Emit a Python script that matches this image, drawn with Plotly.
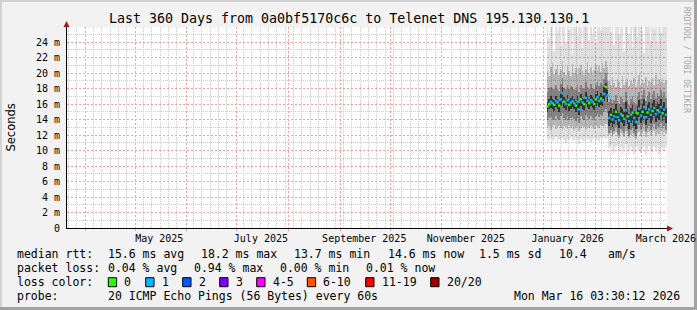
import plotly.graph_objects as go
import pandas as pd

# ---------------- data (milliseconds) ----------------
start_day = "2026-01-03 12:00"
n_days = 72

median_ms = [15.7, 16.0, 16.3, 16.1, 15.9, 16.4, 16.2, 15.8, 16.6, 17.4, 16.3, 16.0, 16.5, 15.9, 16.2, 16.4, 16.1, 15.8, 16.3, 15.3,
             16.6, 16.2, 16.0, 16.8, 16.4, 16.1, 16.5, 16.3, 16.0, 16.6, 16.9, 16.4, 16.7, 16.5, 17.3, 18.2, 17.1,
             14.2, 14.6, 14.0, 14.4, 15.0, 14.3, 13.9, 14.7, 14.5, 14.1, 15.2, 14.4, 13.8, 14.6, 14.9, 14.2, 13.7, 14.8, 15.4,
             14.5, 15.0, 15.6, 14.3, 14.9, 15.3, 14.6, 15.1, 15.5, 14.7, 15.2, 15.0, 15.6, 14.8, 15.3, 14.6]
loss_count = [0, 0, 1, 1, 0, 1, 1, 0, 1, 1, 0, 1, 1, 0, 1, 1, 1, 0, 1, 1, 0, 1, 0, 1, 1, 0, 1, 1, 0, 0, 1, 1, 0, 1, 1, 0, 1,
              1, 0, 1, 1, 0, 1, 1, 1, 0, 1, 1, 0, 1, 1, 0, 1, 1, 0, 1, 1, 0, 1, 1, 0, 1, 1, 0, 1, 1, 0, 1, 1, 0, 1, 1]

# outer smoke (min / max ping)
a_hi = [27, 24.5, 28, 26, 22.8, 27, 25.2, 28, 23.5, 27, 26.5, 24, 28, 25.5, 27, 22.5, 26.8, 28, 24.8, 27,
        25.8, 23.2, 28, 26.2, 27, 24.2, 28, 25, 26.7, 23.8, 28, 27, 25.4, 28, 26.6, 28, 27.5,
        28, 25.3, 27, 23.6, 28, 26.4, 24.9, 28, 27.2, 22.9, 26.1, 28, 25.0, 27.3, 23.4, 28, 26.0, 24.6, 28,
        27.0, 25.6, 22.6, 28, 26.3, 27.1, 24.1, 28, 25.7, 26.9, 23.9, 28, 25.2, 27.4, 28, 26.2]
a_lo = [11.5, 11.3, 11.6, 11.2, 11.4, 11.7, 11.1, 11.5, 11.3, 11.6, 11.4, 11.0, 11.5, 11.3, 11.7, 11.2, 11.4, 11.6, 11.3, 10.9,
        11.5, 11.4, 11.2, 11.6, 11.3, 11.5, 11.1, 11.4, 11.6, 11.3, 11.5, 11.2, 11.6, 11.4, 11.7, 11.5, 11.8,
        10.3, 10.6, 10.1, 9.8, 10.4, 10.7, 10.0, 10.5, 9.6, 10.2, 10.8, 10.3, 9.9, 10.5, 10.1, 9.5, 10.4, 10.6,
        10.0, 9.7, 10.3, 10.5, 9.4, 10.2, 10.6, 10.0, 9.8, 10.4, 10.1, 10.3, 9.6, 10.2, 10.5, 10.0, 10.4]
b_hi = [20.2, 19.6, 20.8, 21.3, 19.9, 20.5, 21.0, 19.7, 20.4, 21.5, 20.1, 19.8, 20.9, 20.3, 19.6, 21.2, 20.0, 20.6, 19.9, 20.7,
        21.1, 20.2, 19.8, 20.5, 21.4, 20.0, 20.8, 19.7, 20.4, 21.0, 20.3, 20.9, 20.1, 21.3, 20.6, 21.5, 20.8,
        19.0, 18.4, 19.5, 18.7, 18.2, 19.2, 18.9, 18.1, 19.6, 18.5, 18.8, 19.3, 18.3, 19.0, 18.6, 19.4, 18.2, 18.9,
        19.7, 18.4, 19.1, 18.7, 19.5, 18.3, 19.0, 18.8, 19.3, 18.5, 19.8, 18.6, 19.2, 18.9, 19.4, 18.7, 19.1]
b_lo = [12.9, 13.1, 12.7, 13.0, 13.3, 12.8, 13.0, 13.2, 12.9, 12.6, 13.1, 13.0, 12.8, 13.3, 12.9, 13.1, 12.7, 13.0, 13.2, 12.5,
        12.9, 13.1, 13.0, 12.8, 13.2, 12.9, 13.1, 13.0, 12.8, 13.2, 13.0, 12.9, 13.3, 13.1, 13.2, 13.4, 13.3,
        12.0, 12.2, 11.7, 12.1, 12.4, 11.9, 11.6, 12.2, 12.0, 11.8, 12.5, 12.1, 11.6, 12.0, 12.3, 11.8, 11.5, 12.2,
        12.4, 11.9, 12.1, 12.5, 11.8, 12.2, 12.4, 11.9, 12.3, 12.5, 12.0, 12.3, 12.1, 12.5, 12.0, 12.4, 12.1]
c_hi = [17.6, 18.1, 18.2, 17.9, 18.0, 18.5, 18.0, 17.7, 18.6, 19.3, 18.1, 18.0, 18.4, 17.9, 18.3, 18.2, 17.9, 17.8, 18.5, 17.6,
        18.5, 18.1, 17.9, 18.9, 18.2, 18.0, 18.6, 18.1, 17.9, 18.5, 18.8, 18.3, 18.7, 18.4, 19.2, 20.0, 19.0,
        16.3, 16.6, 16.1, 16.5, 17.2, 16.4, 16.0, 16.9, 16.6, 16.2, 17.5, 16.5, 15.9, 16.7, 17.1, 16.3, 15.9, 16.9,
        17.6, 16.6, 17.2, 17.8, 16.4, 17.0, 17.5, 16.7, 17.3, 17.7, 16.8, 17.4, 17.1, 17.8, 16.9, 17.5, 16.8]
c_lo = [13.9, 14.2, 14.3, 14.1, 14.0, 14.4, 14.1, 13.9, 14.5, 14.9, 14.2, 14.0, 14.4, 13.9, 14.2, 14.3, 14.1, 13.8, 14.2, 13.6,
        14.5, 14.1, 14.0, 14.6, 14.3, 14.1, 14.4, 14.2, 14.0, 14.5, 14.7, 14.3, 14.6, 14.4, 15.0, 15.3, 14.9,
        12.2, 12.7, 12.0, 12.5, 13.0, 12.3, 12.0, 12.8, 12.5, 12.2, 13.1, 12.5, 11.9, 12.7, 12.9, 12.3, 11.9, 12.8,
        13.3, 12.6, 13.0, 13.4, 12.4, 12.9, 13.2, 12.7, 13.0, 13.4, 12.8, 13.1, 13.0, 13.5, 12.9, 13.2, 12.7]
d_hi = [16.3, 16.6, 17.0, 16.6, 16.5, 17.1, 16.7, 16.4, 17.3, 18.2, 16.9, 16.6, 17.2, 16.5, 16.8, 17.0, 16.7, 16.4, 17.0, 16.1,
        17.3, 16.8, 16.6, 17.6, 17.0, 16.7, 17.2, 16.9, 16.6, 17.3, 17.7, 17.0, 17.4, 17.1, 18.2, 18.7, 17.8,
        15.1, 15.5, 14.9, 15.3, 16.0, 15.2, 14.8, 15.6, 15.4, 15.0, 16.2, 15.3, 14.7, 15.5, 15.9, 15.1, 14.7, 15.7,
        16.5, 15.4, 16.0, 16.7, 15.2, 15.9, 16.3, 15.5, 16.1, 16.5, 15.7, 16.2, 16.0, 16.7, 15.8, 16.3, 15.5]
d_lo = [15.0, 15.3, 15.5, 15.3, 15.1, 15.6, 15.4, 15.0, 15.8, 16.4, 15.5, 15.2, 15.7, 15.1, 15.4, 15.6, 15.3, 15.0, 15.5, 14.6,
        15.8, 15.4, 15.2, 16.0, 15.6, 15.3, 15.7, 15.5, 15.2, 15.8, 16.1, 15.6, 15.9, 15.7, 16.4, 17.1, 16.2,
        13.2, 13.6, 13.0, 13.4, 14.0, 13.3, 12.9, 13.7, 13.5, 13.1, 14.1, 13.4, 12.8, 13.6, 13.9, 13.2, 12.8, 13.8,
        14.3, 13.5, 14.0, 14.5, 13.3, 13.9, 14.2, 13.6, 14.1, 14.5, 13.7, 14.2, 14.0, 14.6, 13.8, 14.3, 13.6]

# axis / legend text
range_start = "2025-03-21 03:30:12"
range_end = "2026-03-16 03:30:12"
month_starts = ["2025-04-01", "2025-05-01", "2025-06-01", "2025-07-01", "2025-08-01", "2025-09-01",
                "2025-10-01", "2025-11-01", "2025-12-01", "2026-01-01", "2026-02-01", "2026-03-01"]
label_dates = ["2025-05-15 12:00", "2025-07-15 12:00", "2025-09-15 12:00", "2025-11-15 12:00",
               "2026-01-15 12:00", "2026-03-15 12:00"]
label_text = ["May 2025", "July 2025", "September 2025", "November 2025", "January 2026", "March 2026"]
y_tick_ms = [0, 2, 4, 6, 8, 10, 12, 14, 16, 18, 20, 22, 24]
y_tick_text = ["0", "2 m", "4 m", "6 m", "8 m", "10 m", "12 m", "14 m", "16 m", "18 m", "20 m", "22 m", "24 m"]
y_minor_ms = [1, 3, 5, 7, 9, 11, 13, 15, 17, 19, 21, 23, 25]
loss_labels = ["0", "1", "2", "3", "4-5", "6-10", "11-19", "20/20"]
loss_colors = ["#26ff00", "#00b8ff", "#0059ff", "#7e00ff", "#ff00ff", "#ff5500", "#ff0000", "#a10000"]
title_text = "Last 360 Days from 0a0bf5170c6c to Telenet DNS 195.130.130.1"

# ---------------- geometry ----------------
W, H = 697, 310
L, R, T, B = 67, 667, 27, 228
MONO = "DejaVu Sans Mono"


def px(xp):
    return (xp - L) / (R - L)


def py(yp):
    return (B - yp) / (B - T)


xc = pd.date_range(start_day, periods=n_days, freq="D")
DAY_MS = 86400000

# minor vertical grid every 5 days, skipping those that fall on a month line
ms_ts = pd.to_datetime(month_starts)
minor_x = [d for d in pd.date_range("2025-03-22", "2026-03-16", freq="5D")
           if min(abs((d - m).total_seconds()) for m in ms_ts) > 1.2 * 86400]


def loss_idx(n):
    if n <= 3:
        return n
    if n <= 5:
        return 4
    if n <= 10:
        return 5
    if n <= 19:
        return 6
    return 7


fig = go.Figure()
for lo, hi, alpha in [(a_lo, a_hi, 0.12), (b_lo, b_hi, 0.19), (c_lo, c_hi, 0.28), (d_lo, d_hi, 0.6)]:
    fig.add_trace(go.Bar(
        x=xc, base=[v / 1000 for v in lo], y=[(h - l) / 1000 for l, h in zip(lo, hi)],
        width=DAY_MS, marker=dict(color=f"rgba(0,0,0,{alpha})", line=dict(width=0)),
        hoverinfo="skip", showlegend=False))

fig.add_trace(go.Scatter(
    x=xc, y=[v / 1000 for v in median_ms], mode="markers", xaxis="x2", yaxis="y",
    marker=dict(symbol="square", size=2.5, line=dict(width=0),
                color=[loss_colors[loss_idx(n)] for n in loss_count]),
    hoverinfo="skip", showlegend=False))

MAJ = "#ff9c9c"
MIN = "#cccccc"
fig.update_layout(
    width=W, height=H, autosize=False, margin=dict(l=L, r=W - R, t=T, b=H - B, pad=0, autoexpand=False),
    paper_bgcolor="#f2f2f2", plot_bgcolor="#ffffff",
    barmode="overlay", bargap=0, showlegend=False,
    xaxis=dict(type="date", range=[range_start, range_end], tickmode="array", tickvals=month_starts,
               showticklabels=False, showgrid=True, gridcolor=MAJ, griddash="2px,2px", gridwidth=1,
               ticks="outside", ticklen=2, tickcolor=MAJ, showline=True, linecolor="#000000", linewidth=1,
               zeroline=False, automargin=False,
               minor=dict(tickmode="array", tickvals=minor_x, showgrid=True, gridcolor=MIN,
                          griddash="1px,1px", ticks="")),
    xaxis2=dict(type="date", overlaying="x", anchor="y", side="bottom", range=[range_start, range_end],
                tickmode="array", tickvals=label_dates, ticktext=label_text, showgrid=False,
                ticks="outside", ticklen=1, tickcolor="rgba(0,0,0,0)", showline=False, zeroline=False,
                automargin=False, ticklabeloverflow="allow",
                tickfont=dict(family=MONO, size=10, color="#000000")),
    yaxis=dict(range=[0, 0.02594], tickmode="array", tickvals=[v / 1000 for v in y_tick_ms], ticktext=y_tick_text,
               showgrid=True, gridcolor=MAJ, griddash="2px,2px", gridwidth=1, zeroline=False,
               showline=True, linecolor="#000000", linewidth=1, automargin=False,
               ticks="outside", ticklen=4, tickcolor="rgba(0,0,0,0)",
               tickfont=dict(family=MONO, size=10, color="#000000"),
               minor=dict(tickmode="array", tickvals=[v / 1000 for v in y_minor_ms], showgrid=True,
                          gridcolor=MIN, griddash="1px,1px", ticks="")),
)

shapes = []
ann = []


def text(xp, yp, s, size=11.5, anchor="left", family=MONO, color="#000000", angle=0):
    ann.append(dict(x=px(xp), y=py(yp), xref="paper", yref="paper", text=s, showarrow=False,
                    xanchor=anchor, yanchor="middle", borderpad=0, textangle=angle,
                    font=dict(family=family, size=size, color=color)))


text(348.5, 18.5, title_text, size=13.3, anchor="center")
text(10, 127.5, "Seconds", size=11.5, anchor="center", family="DejaVu Sans", angle=-90)
text(687, 60, "RRDTOOL / TOBI OETIKER", size=8, anchor="center", color="#a9a9a9", angle=90)

rows = [254.3, 268.3, 282.3, 296.0]
for xp, s in [(16, "median rtt:"), (107.3, "15.6 ms avg"), (200, "18.2 ms max"), (293.3, "13.7 ms min"),
              (386.7, "14.6 ms now"), (478.3, "1.5 ms sd"), (558.3, "10.4"), (606.7, "am/s")]:
    text(xp, rows[0], s)
for xp, s in [(16, "packet loss:"), (107.3, "0.04 % avg"), (193.3, "0.94 % max"), (279, "0.00 % min"),
              (365, "0.01 % now")]:
    text(xp, rows[1], s)
text(16, rows[2], "loss color:")
box_x = [108.3, 145.7, 182.7, 219.7, 256.7, 307.3, 365.7, 430.7]
for bx, lab, col in zip(box_x, loss_labels, loss_colors):
    shapes.append(dict(type="rect", xref="paper", yref="paper", x0=px(bx), x1=px(bx + 8.3),
                       y0=py(286.7), y1=py(277.7), fillcolor=col, line=dict(color="#000000", width=1)))
    text(bx + 15, rows[2], lab)
text(16, rows[3], "probe:")
text(107.3, rows[3], "20 ICMP Echo Pings (56 Bytes) every 60s")
text(512.7, rows[3], "Mon Mar 16 03:30:12 2026")

# frame
for x0, y0, x1, y1, col in [(0, 0, 697, 2, "#d2d2d2"), (0, 0, 2, 310, "#d2d2d2"),
                            (0, 307, 697, 310, "#a2a2a2"), (694, 0, 697, 310, "#a2a2a2")]:
    shapes.append(dict(type="rect", xref="paper", yref="paper", x0=px(x0), x1=px(x1), y0=py(y1), y1=py(y0),
                       fillcolor=col, line=dict(width=0), layer="below"))

# axis arrows
ARW = "#a01818"
shapes.append(dict(type="path", xref="paper", yref="paper", fillcolor=ARW, line=dict(width=0),
                   path=f"M {px(63.5)} {py(27)} L {px(66.5)} {py(21)} L {px(69.5)} {py(27)} Z"))
shapes.append(dict(type="path", xref="paper", yref="paper", fillcolor=ARW, line=dict(width=0),
                   path=f"M {px(667)} {py(225.5)} L {px(673)} {py(228.5)} L {px(667)} {py(231.5)} Z"))

fig.update_layout(annotations=ann, shapes=shapes)
fig.write_html("out.html")
